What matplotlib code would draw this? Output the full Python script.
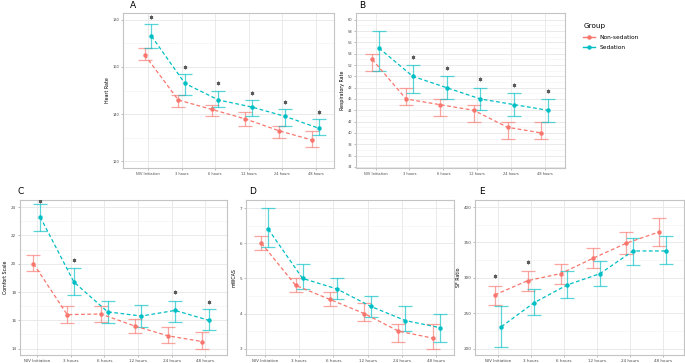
import numpy as np
import matplotlib
matplotlib.use('Agg')
import matplotlib.pyplot as plt
from matplotlib.lines import Line2D

times = ['NIV Initiation', '3 hours', '6 hours', '12 hours', '24 hours', '48 hours']
groups = ['Non-sedation', 'Sedation']

# Heart rate (A)
hr_ns = [165, 146, 142, 138, 133, 129]
hr_ns_lo = [163, 143, 139, 135, 130, 126]
hr_ns_hi = [168, 148, 144, 141, 135, 133]
hr_s = [173, 153, 146, 143, 139, 134]
hr_s_lo = [168, 148, 143, 139, 135, 131]
hr_s_hi = [178, 157, 150, 146, 142, 138]
hr_star_idx = [0, 1, 2, 3, 4, 5]
hr_star_y = [181, 160, 153.2, 148.8, 145, 141]

# Respiratory rate (B)
rr_ns = [53, 46, 45, 44, 41, 40]
rr_ns_lo = [51, 45, 43, 42, 39, 39]
rr_ns_hi = [54, 48, 46, 45, 42, 42]
rr_s = [55, 50, 48, 46, 45, 44]
rr_s_lo = [51, 47, 46, 44, 43, 42]
rr_s_hi = [58, 52, 50, 48, 47, 46]
rr_star_idx = [1, 2, 3, 4, 5]
rr_star_y = [53.4, 51.5, 49.6, 48.5, 47.5]

# Comfort scale (C)
cs_ns = [20.0, 16.4, 16.45, 15.6, 14.9, 14.5]
cs_ns_lo = [19.5, 15.8, 15.9, 15.1, 14.4, 14.0]
cs_ns_hi = [20.6, 17.0, 17.0, 16.1, 15.5, 15.2]
cs_s = [23.3, 18.7, 16.6, 16.3, 16.7, 16.0]
cs_s_lo = [22.3, 17.8, 15.8, 15.5, 15.9, 15.3]
cs_s_hi = [24.2, 19.7, 17.4, 17.1, 17.4, 16.8]
cs_star_idx = [0, 1, 4, 5]
cs_star_y = [24.4, 20.25, 18.0, 17.3]

# mWCAS (D)
mw_ns = [6.0, 4.8, 4.4, 4.0, 3.5, 3.3]
mw_ns_lo = [5.8, 4.6, 4.2, 3.8, 3.2, 3.0]
mw_ns_hi = [6.2, 5.0, 4.6, 4.3, 3.7, 3.7]
mw_s = [6.4, 5.0, 4.7, 4.2, 3.8, 3.6]
mw_s_lo = [5.9, 4.7, 4.4, 3.9, 3.5, 3.2]
mw_s_hi = [7.0, 5.4, 5.0, 4.5, 4.2, 4.0]

# SF ratio (E)
sf_ns = [276, 296, 306, 328, 349, 365]
sf_ns_lo = [262, 282, 292, 314, 334, 345]
sf_ns_hi = [289, 309, 319, 342, 365, 385]
sf_s = [231, 265, 290, 306, 338, 338]
sf_s_lo = [202, 247, 271, 288, 318, 319]
sf_s_hi = [260, 284, 309, 324, 357, 359]
sf_star_idx = [0, 1]
sf_star_y = [302, 322]

RED = '#F8766D'
CYAN = '#00BFC4'
W, H = 685, 363

fig = plt.figure(figsize=(W / 100, H / 100), dpi=100)


def px_axes(left, top, right, bottom):
    return fig.add_axes([left / W, 1 - bottom / H, (right - left) / W, (bottom - top) / H])


def panel(ax, letter, letter_xy, ylabel, ns, ns_lo, ns_hi, s, s_lo, s_hi, ylim, yticks,
          star_idx=None, star_y=None, star_side=1, tick_fs=2.6, lab_fs=3.4):
    x = np.arange(1, len(times) + 1)
    dodge = 0.1
    for sign, m, lo, hi, c in [(-1, ns, ns_lo, ns_hi, RED), (1, s, s_lo, s_hi, CYAN)]:
        xx = x + sign * dodge
        m = np.array(m)
        ax.errorbar(xx, m, yerr=[m - np.array(lo), np.array(hi) - m], fmt='none',
                    ecolor=c, alpha=0.65, elinewidth=0.9, capsize=4.8, capthick=0.9, zorder=3)
        ax.plot(xx, m, ls=(0, (3, 2)), color=c, lw=0.9, zorder=4)
        ax.plot(xx, m, 'o', color=c, ms=2.2, zorder=5)
    if star_idx is not None:
        sx = np.array(star_idx) + 1 + star_side * dodge
        ax.plot(sx, star_y, ls='none', marker=(6, 2, 0), ms=2.6, mew=0.6,
                color='#5A5A5A', zorder=6)
    ax.set_xlim(0.4, 6.6)
    ax.set_ylim(*ylim)
    ax.set_xticks(x)
    ax.set_xticklabels(times, fontsize=tick_fs, color='#4D4D4D')
    ax.set_yticks(yticks)
    ax.set_yticklabels([str(t) for t in yticks], fontsize=tick_fs, color='#4D4D4D')
    minor = [(a + b) / 2 for a, b in zip(yticks[:-1], yticks[1:])]
    ax.set_yticks(minor, minor=True)
    ax.tick_params(axis='y', which='minor', length=0)
    ax.tick_params(which='major', length=1.5, width=0.4, color='#888888', pad=1.2)
    ax.grid(True, which='major', color='#E6E6E6', lw=0.6)
    ax.grid(True, which='minor', axis='y', color='#F2F2F2', lw=0.4)
    ax.set_axisbelow(True)
    for sp in ax.spines.values():
        sp.set_color('#C4C4C4')
        sp.set_linewidth(0.8)
    ax.set_ylabel(ylabel, fontsize=lab_fs, labelpad=2)
    fig.text(letter_xy[0] / W, 1 - letter_xy[1] / H, letter, fontsize=6.5,
             ha='center', va='center')


axA = px_axes(123, 13, 334, 168)
panel(axA, 'A', (133, 6), 'Heart Rate', hr_ns, hr_ns_lo, hr_ns_hi, hr_s, hr_s_lo, hr_s_hi,
      (117.2, 182.8), [120, 140, 160, 180], hr_star_idx, hr_star_y, 1)
axA.set_xlim(0.25, 6.55)

axB = px_axes(356, 13, 565, 168)
panel(axB, 'B', (362, 6), 'Respiratory Rate', rr_ns, rr_ns_lo, rr_ns_hi, rr_s, rr_s_lo, rr_s_hi,
      (33.8, 61.2), list(range(34, 61, 2)), rr_star_idx, rr_star_y, 1)
axB.set_xlim(0.42, 6.6)

axC = px_axes(20, 200, 227, 355)
panel(axC, 'C', (21, 192), 'Comfort Scale', cs_ns, cs_ns_lo, cs_ns_hi, cs_s, cs_s_lo, cs_s_hi,
      (13.55, 24.5), [14, 16, 18, 20, 22, 24], cs_star_idx, cs_star_y, 1, tick_fs=3.0)
axC.set_xlim(0.5, 6.64)

axD = px_axes(246, 200, 454, 355)
panel(axD, 'D', (253, 192), 'mWCAS', mw_ns, mw_ns_lo, mw_ns_hi, mw_s, mw_s_lo, mw_s_hi,
      (2.82, 7.23), [3, 4, 5, 6, 7], tick_fs=3.0)
axD.set_xlim(0.45, 6.52)

axE = px_axes(475, 200, 684, 355)
panel(axE, 'E', (482, 192), 'SF Ratio', sf_ns, sf_ns_lo, sf_ns_hi, sf_s, sf_s_lo, sf_s_hi,
      (191, 410), [200, 250, 300, 350, 400], sf_star_idx, sf_star_y, -1, tick_fs=3.0)
axE.set_xlim(0.3, 6.65)

# legend
handles = [Line2D([], [], color=c, lw=1.0, marker='o', ms=2.2) for c in (RED, CYAN)]
fig.legend(handles, groups, title='Group', loc='upper left',
           bbox_to_anchor=(578 / W, 1 - 18 / H), frameon=False, fontsize=4.2,
           title_fontsize=5.2, handlelength=2.0, labelspacing=0.9, alignment='left')

fig.savefig('out.png', dpi=100)
